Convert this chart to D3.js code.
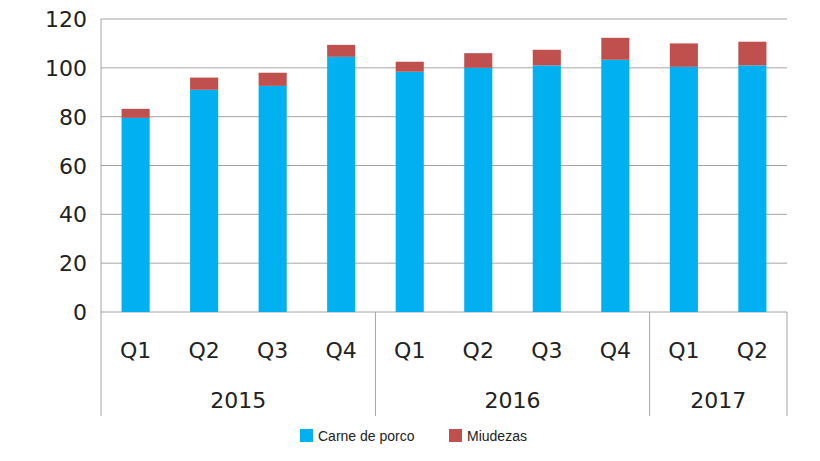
<!DOCTYPE html>
<html>
<head>
<meta charset="utf-8">
<script src="https://cdn.jsdelivr.net/npm/d3@7"></script>
<style>
  body { margin: 0; background: #fff; }
  text { font-family: "DejaVu Sans", Verdana, sans-serif; fill: #222; }
</style>
</head>
<body>
<script>
var quarters = ['Q1', 'Q2', 'Q3', 'Q4', 'Q1', 'Q2', 'Q3', 'Q4', 'Q1', 'Q2'];
var years = [['2015', 4], ['2016', 4], ['2017', 2]];
var carne = [79.5, 91, 92.6, 104.5, 98.4, 100, 101, 103.3, 100.4, 101];
var miudezas = [3.7, 5, 5.4, 4.9, 4.1, 6, 6.4, 9, 9.6, 9.7];
var yTicks = [0, 20, 40, 60, 80, 100, 120];

var W = 820, H = 461;
var plotLeft = 101, plotRight = 787, plotTop = 19, plotBottom = 312;

var svg = d3.select('body').append('svg').attr('width', W).attr('height', H);

var x = d3.scaleBand().domain(d3.range(quarters.length)).range([plotLeft, plotRight]).paddingInner(0.59).paddingOuter(0.3);
var y = d3.scaleLinear().domain([0, 120]).range([plotBottom, plotTop]);

// gridlines
svg.append('g').selectAll('line').data(yTicks).enter().append('line')
  .attr('x1', plotLeft).attr('x2', plotRight)
  .attr('y1', function (d) { return y(d); }).attr('y2', function (d) { return y(d); })
  .attr('stroke', '#a6a6a6').attr('stroke-width', 1);

// y axis
svg.append('line').attr('x1', plotLeft).attr('x2', plotLeft).attr('y1', plotTop).attr('y2', plotBottom).attr('stroke', '#a6a6a6');
svg.append('g').selectAll('text').data(yTicks).enter().append('text')
  .attr('x', plotLeft - 14).attr('y', function (d) { return y(d) + 8; })
  .attr('text-anchor', 'end').style('font-size', '22px')
  .text(function (d) { return d; });

// bars
var idx = d3.range(quarters.length);
svg.append('g').selectAll('rect').data(idx).enter().append('rect')
  .attr('x', function (i) { return x(i); }).attr('width', x.bandwidth())
  .attr('y', function (i) { return y(carne[i]); })
  .attr('height', function (i) { return y(0) - y(carne[i]); })
  .attr('fill', '#00b0f0');
svg.append('g').selectAll('rect').data(idx).enter().append('rect')
  .attr('x', function (i) { return x(i); }).attr('width', x.bandwidth())
  .attr('y', function (i) { return y(carne[i] + miudezas[i]); })
  .attr('height', function (i) { return y(carne[i]) - y(carne[i] + miudezas[i]); })
  .attr('fill', '#c0504d');

// category labels
var step = x.step();
svg.append('g').selectAll('text').data(idx).enter().append('text')
  .attr('x', function (i) { return x(i) + x.bandwidth() / 2; }).attr('y', 358)
  .attr('text-anchor', 'middle').style('font-size', '22px')
  .text(function (i) { return quarters[i]; });

// year groups with separators
var pos = 0;
var seps = [plotLeft];
years.forEach(function (yr) {
  var x0 = seps[seps.length - 1];
  pos += yr[1];
  var x1 = pos === quarters.length ? plotRight : x(pos) - (step - x.bandwidth()) / 2;
  seps.push(x1);
  svg.append('text').attr('x', (x0 + x1) / 2).attr('y', 408)
    .attr('text-anchor', 'middle').style('font-size', '22px').text(yr[0]);
});
svg.append('g').selectAll('line').data(seps).enter().append('line')
  .attr('x1', function (d) { return d; }).attr('x2', function (d) { return d; })
  .attr('y1', plotBottom).attr('y2', 416)
  .attr('stroke', '#a6a6a6');

// legend
var legend = [['Carne de porco', '#00b0f0', 300], ['Miudezas', '#c0504d', 449]];
var lg = svg.append('g').selectAll('g').data(legend).enter().append('g');
lg.append('rect').attr('x', function (d) { return d[2]; }).attr('y', 429)
  .attr('width', 13).attr('height', 13).attr('fill', function (d) { return d[1]; });
lg.append('text').attr('x', function (d) { return d[2] + 18; }).attr('y', 441)
  .style('font-family', 'Arial, "Liberation Sans", sans-serif').style('font-size', '14px')
  .text(function (d) { return d[0]; });
</script>
</body>
</html>
